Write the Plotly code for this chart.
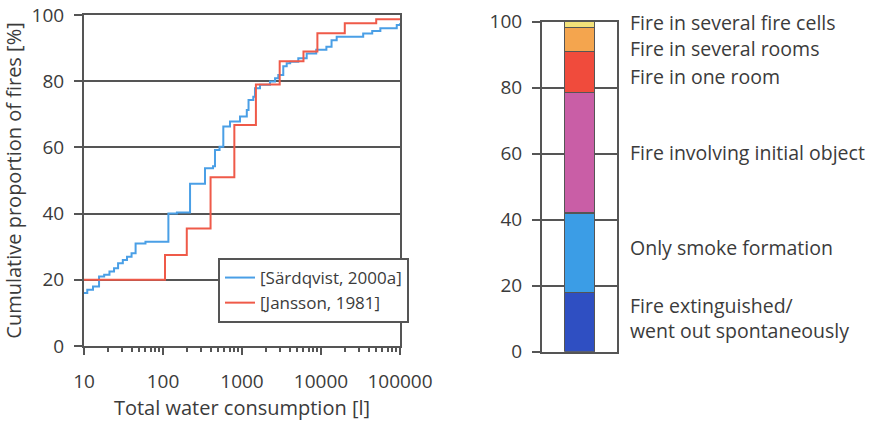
import plotly.graph_objects as go

# Cumulative distribution of total water consumption per fire
sardqvist_water = [10, 11, 13, 15.5, 18, 21, 24, 27, 31, 35, 40, 45, 60, 117, 150, 220,
                   340, 430, 455, 520, 580, 705, 944, 1150, 1210, 1390, 1460, 1690,
                   2260, 2620, 2880, 3330, 3680, 4070, 5160, 6590, 8700, 11700, 13600,
                   15800, 28300, 34200, 44500, 56400, 91000, 100000]
sardqvist_cum = [16, 17, 18, 21, 21.5, 22.5, 23.5, 25, 26, 27, 28, 31, 31.5, 40, 40.3, 49,
                 53.7, 54.3, 59.2, 60.2, 66.3, 67.8, 69.3, 71.3, 74.3, 75.3, 77.9, 78.9,
                 79.9, 80.9, 81.9, 84.5, 85.4, 85.9, 86.9, 88.4, 89.5, 90.4, 92.4,
                 93.4, 93.4, 94.4, 95.2, 96, 97, 97.5]

jansson_water = [10, 106, 200, 400, 800, 1500, 3000, 6000, 9000, 20000, 50000, 100000]
jansson_cum = [20, 27.5, 35.5, 51, 66.8, 79, 86, 89, 94.5, 97.5, 98.7, 98.7]

# Fire spread outcome shares (%), bottom to top
spread_categories = ["Fire extinguished/<br>went out spontaneously", "Only smoke formation",
                     "Fire involving initial object", "Fire in one room",
                     "Fire in several rooms", "Fire in several fire cells"]
spread_share = [18, 24, 36.5, 12.5, 7.3, 1.7]

x_tick_vals = [10, 100, 1000, 10000, 100000]
x_tick_text = ["10", "100", "1000", "10000", "100000"]
y_tick_vals = [0, 20, 40, 60, 80, 100]

# minor log ticks at 2..9 within each decade
x_minor_vals = [m * d for d in (10, 100, 1000, 10000) for m in range(2, 10)]

# ---- styling ----
W, H = 888, 423
INK = "#3b3b3b"
FRAME = "#555555"
FONT = "Open Sans"
seg_colors = ["#2f4fc2", "#3b9de6", "#c95ea6", "#f04b3c", "#f4a54e", "#f3e27a"]
label_y = [10.2, 31.7, 60.5, 83.5, 92, 99.9]

fig = go.Figure()

fig.add_trace(go.Scatter(x=sardqvist_water, y=sardqvist_cum, mode="lines",
                         line=dict(color="#4a9fe6", width=2, shape="hv"),
                         name="[Särdqvist, 2000a]", xaxis="x", yaxis="y"))
fig.add_trace(go.Scatter(x=jansson_water, y=jansson_cum, mode="lines",
                         line=dict(color="#ef5a49", width=2, shape="hv"),
                         name="[Jansson, 1981]", xaxis="x", yaxis="y"))

for cat, val, col in zip(spread_categories, spread_share, seg_colors):
    fig.add_trace(go.Bar(x=["all"], y=[val], marker=dict(color=col, line=dict(color=FRAME, width=1.5)),
                         width=0.4, showlegend=False, name=cat, xaxis="x2", yaxis="y2",
                         hoverinfo="name+y"))

for cat, ly in zip(spread_categories, label_y):
    fig.add_annotation(text=cat, xref="paper", yref="y2", x=628 / W, y=ly,
                       xanchor="left", yanchor="middle", showarrow=False, align="left",
                       font=dict(family=FONT, size=19.5, color=INK))

axis_common = dict(showline=True, linecolor=FRAME, linewidth=2, mirror=True,
                   tickcolor=FRAME, tickwidth=2, zeroline=False, automargin=False)

fig.update_layout(
    width=W, height=H,
    margin=dict(l=0, r=0, t=0, b=0),
    paper_bgcolor="white", plot_bgcolor="white",
    barmode="stack",
    font=dict(family=FONT, color=INK, size=18),
    xaxis=dict(type="log", range=[1, 5], domain=[84 / W, 400 / W],
               tickvals=x_tick_vals, ticktext=x_tick_text, ticks="outside", ticklen=7,
               minor=dict(tickmode="array", tickvals=x_minor_vals, ticks="outside", ticklen=4,
                          tickcolor=FRAME, tickwidth=1.5, showgrid=False),
               showgrid=False, tickfont=dict(size=19), ticklabelstandoff=10,
               title=dict(text="Total water consumption [l]", font=dict(size=20), standoff=8),
               anchor="y", **axis_common),
    yaxis=dict(range=[0, 100], domain=[(H - 346) / H, (H - 15) / H],
               tickvals=y_tick_vals, ticks="outside", ticklen=8,
               showgrid=True, gridcolor=FRAME, gridwidth=2,
               tickfont=dict(size=19), ticklabelstandoff=6,
               title=dict(text="Cumulative proportion of fires [%]", font=dict(size=20), standoff=8),
               anchor="x", **axis_common),
    xaxis2=dict(range=[-0.5, 0.5], domain=[542 / W, 617 / W], showticklabels=False,
                ticks="", showgrid=False, anchor="y2", **axis_common),
    yaxis2=dict(range=[0, 100], domain=[(H - 351.7) / H, (H - 21.7) / H],
                tickvals=y_tick_vals, ticks="outside", ticklen=8,
                showgrid=True, gridcolor=FRAME, gridwidth=2,
                tickfont=dict(size=19), ticklabelstandoff=6,
                anchor="x2", **axis_common),
    legend=dict(x=218 / W, y=(H - 258) / H, xanchor="left", yanchor="top",
                bgcolor="white", bordercolor=FRAME, borderwidth=2, traceorder="normal",
                font=dict(size=17, color=INK), tracegroupgap=2),
    showlegend=True,
)

fig.write_html("out.html")
